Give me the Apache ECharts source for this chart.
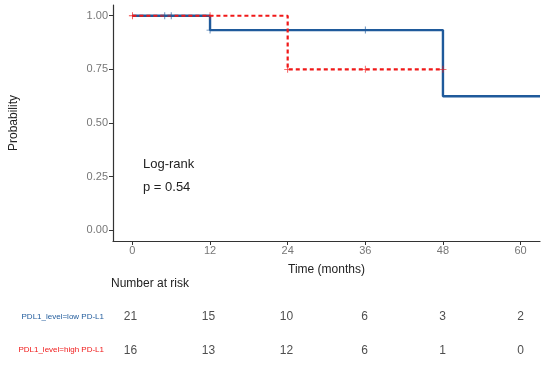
<!DOCTYPE html>
<html><head><meta charset="utf-8">
<script src="https://cdn.jsdelivr.net/npm/echarts@6/dist/echarts.min.js"></script>
<style>html,body{margin:0;padding:0;background:#fff}#c{width:550px;height:369px}</style>
</head><body><div id="c"></div>
<script>
// Kaplan-Meier step curves (time in months, survival probability)
const lowCurve = [[0,1.0],[12,0.933],[48,0.625],[63,0.625]];
const highCurve = [[0,1.0],[24,0.75],[48,0.75]];
// censor marks
const lowCensor = [[5,1.0],[6,1.0],[12,0.933],[36,0.933]];
const highCensor = [[0,1.0],[12,1.0],[24,0.75],[36,0.75],[48,0.75]];
// risk table
const riskTimes = [0,12,24,36,48,60];
const groups = ['PDL1_level=low PD-L1','PDL1_level=high PD-L1'];
const riskLow = [21,15,10,6,3,2];
const riskHigh = [16,13,12,6,1,0];
const xTicks = [0,12,24,36,48,60];
const yTicks = [0,0.25,0.5,0.75,1.0];
const pText = 'Log-rank\np = 0.54';

const blue = '#1f5a9b', red = '#f01818';
const FONT = 'Liberation Sans, Arial, sans-serif';
const plus = 'path://M-1,-0.12 L1,-0.12 L1,0.12 L-1,0.12 Z M-0.12,-1 L0.12,-1 L0.12,1 L-0.12,1 Z';

const riskData = [];
riskTimes.forEach((t,i)=>{ riskData.push([t, groups[0], riskLow[i]]); riskData.push([t, groups[1], riskHigh[i]]); });

const chart = echarts.init(document.getElementById('c'));
chart.setOption({
  animation:false,
  textStyle:{fontFamily:FONT},
  title:[
    {text:pText, left:143, top:153, padding:0, textStyle:{fontFamily:FONT,fontSize:13,fontWeight:'normal',color:'#222',lineHeight:23}},
    {text:'Number at risk', left:111, top:278, padding:0, textStyle:{fontFamily:FONT,fontSize:12,fontWeight:'normal',color:'#222'}}
  ],
  grid:[
    {left:111, right:10, top:5, bottom:128},
    {left:111, right:10, top:300, height:67}
  ],
  xAxis:[
    {gridIndex:0, type:'value', min:-3, max:63,
     name:'Time (months)', nameLocation:'middle', nameGap:23,
     nameTextStyle:{fontFamily:FONT,fontSize:12,color:'#222'},
     axisLine:{onZero:false,lineStyle:{color:'#333',width:1.2}},
     axisTick:{show:true,length:4,customValues:xTicks,lineStyle:{color:'#333'}},
     axisLabel:{customValues:xTicks,fontSize:11,color:'#777',margin:4,fontFamily:FONT},
     splitLine:{show:false}},
    {gridIndex:1, type:'value', min:-3, max:63, show:false}
  ],
  yAxis:[
    {gridIndex:0, type:'value', min:-0.05, max:1.05,
     name:'Probability', nameLocation:'middle', nameGap:93, nameRotate:90,
     nameTextStyle:{fontFamily:FONT,fontSize:12,color:'#222'},
     axisLine:{show:true,onZero:false,lineStyle:{color:'#333',width:1.2}},
     axisTick:{show:true,length:4,customValues:yTicks,lineStyle:{color:'#333'}},
     axisLabel:{customValues:yTicks,fontSize:11,color:'#777',margin:5,fontFamily:FONT,formatter:v=>v.toFixed(2)},
     splitLine:{show:false}},
    {gridIndex:1, type:'category', data:groups, inverse:true,
     axisLine:{show:false}, axisTick:{show:false},
     axisLabel:{fontSize:8,margin:7,fontFamily:FONT,
       formatter:(v,i)=>i===0?'{a|'+v+'}':'{b|'+v+'}',
       rich:{a:{color:blue,fontSize:8},b:{color:red,fontSize:8}}}}
  ],
  series:[
    {type:'line', xAxisIndex:0, yAxisIndex:0, data:lowCurve, step:'end', symbol:'none',
     lineStyle:{color:blue,width:2.4}, z:3},
    {type:'line', xAxisIndex:0, yAxisIndex:0, data:highCurve, step:'end', symbol:'none',
     lineStyle:{color:red,width:2.2,type:[4,3]}, z:4},
    {type:'scatter', xAxisIndex:0, yAxisIndex:0, data:lowCensor, symbol:plus, symbolSize:7,
     itemStyle:{color:blue}, z:5},
    {type:'scatter', xAxisIndex:0, yAxisIndex:0, data:highCensor, symbol:plus, symbolSize:7,
     itemStyle:{color:red}, z:6},
    {type:'scatter', xAxisIndex:1, yAxisIndex:1, data:riskData, symbolSize:0,
     label:{show:true, position:'inside', formatter:p=>String(p.value[2]), fontSize:12, color:'#222', fontFamily:FONT}}
  ]
});
</script></body></html>
